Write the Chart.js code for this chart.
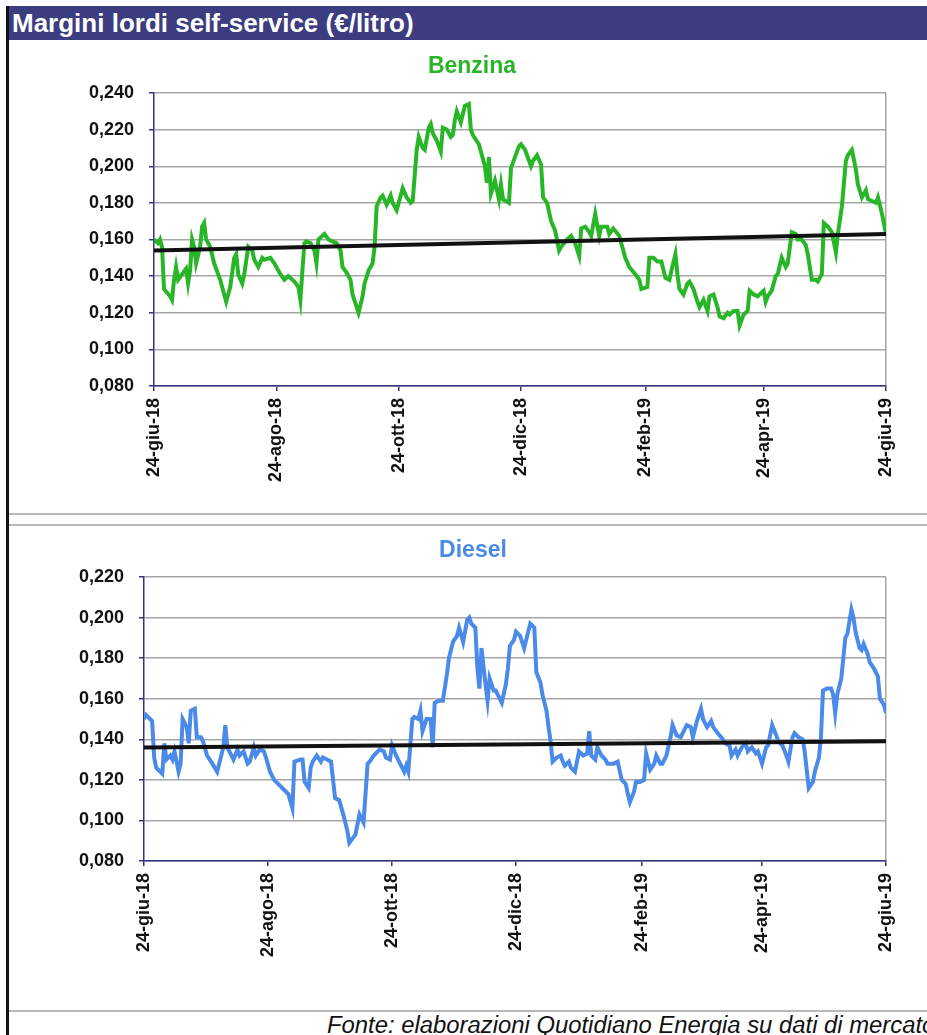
<!DOCTYPE html>
<html>
<head>
<meta charset="utf-8">
<script src="https://cdn.jsdelivr.net/npm/chart.js@4.4.1/dist/chart.umd.min.js"></script>
<style>
    body { margin: 0; background: #fff; }
    #page { position: relative; width: 927px; height: 1035px; overflow: hidden; background: #fff; font-family: "Liberation Sans", Arial, sans-serif; }
    #titlebar { position: absolute; left: 8px; top: 6px; width: 919px; height: 34px; background: #3c3c80; color: #fff; font-weight: bold; font-size: 26px; line-height: 35px; padding-left: 4px; box-sizing: border-box; white-space: nowrap; }
    #leftline { position: absolute; left: 6px; top: 6px; width: 3px; height: 1029px; background: #111; }
    .sep { position: absolute; left: 9px; width: 918px; height: 2px; background: #b4bab4; }
    canvas { position: absolute; left: 10px; }
    #fonte { position: absolute; left: 327px; top: 1013px; font-size: 23.85px; font-style: italic; color: #111; white-space: nowrap; line-height: 24px; }
</style>
</head>
<body>
<div id="page">
    <div id="titlebar">Margini lordi self-service (€/litro)</div>
    <div id="leftline"></div>
    <canvas id="benzina" width="917" height="468" style="top:42px"></canvas>
    <div class="sep" style="top:513px"></div>
    <div class="sep" style="top:524px"></div>
    <canvas id="diesel" width="917" height="473" style="top:527px"></canvas>
    <div class="sep" style="top:1010px"></div>
    <div id="fonte">Fonte: elaborazioni Quotidiano Energia su dati di mercato</div>
</div>
<script>
// giorni dal 24-giu-18
const tickDays = [0, 61, 122, 183, 245, 304, 365];
const tickLabels = ['24-giu-18', '24-ago-18', '24-ott-18', '24-dic-18', '24-feb-19', '24-apr-19', '24-giu-19'];

const benzinaDays = [
    0, 2, 3, 4, 5, 8, 9, 10, 11, 12,
    14, 16, 17, 18, 19, 20, 21, 23, 24, 25,
    26, 28, 30, 33, 36, 38, 40, 41, 42, 44,
    45, 47, 49, 50, 52, 54, 55, 58, 60, 63,
    65, 67, 70, 72, 73, 74, 75, 76, 78, 80,
    81, 82, 84, 85, 87, 89, 91, 93, 94, 96,
    98, 99, 102, 104, 105, 107, 109, 110, 111, 113,
    114, 116, 118, 119, 121, 123, 124, 126, 128, 129,
    131, 132, 134, 135, 137, 138, 139, 141, 143, 144,
    146, 148, 149, 150, 151, 153, 155, 157, 158, 159,
    162, 163, 165, 166, 167, 168, 170, 172, 173, 174,
    177, 178, 180, 182, 183, 185, 188, 189, 191, 193,
    194, 196, 198, 200, 202, 203, 206, 208, 210, 212,
    213, 215, 217, 218, 220, 222, 223, 226, 227, 229,
    232, 233, 235, 237, 240, 242, 243, 246, 247, 249,
    251, 253, 255, 257, 258, 260, 261, 262, 264, 266,
    267, 269, 271, 272, 274, 276, 277, 279, 281, 282,
    284, 286, 287, 289, 291, 292, 294, 296, 297, 299,
    301, 302, 304, 305, 306, 308, 310, 311, 313, 315,
    316, 318, 320, 321, 323, 325, 326, 328, 330, 331,
    333, 334, 336, 338, 340, 341, 343, 345, 346, 348,
    350, 351, 353, 355, 356, 358, 360, 361, 363, 365
];
const benzinaValues = [
    0.160, 0.158, 0.160, 0.156, 0.133, 0.129, 0.127, 0.138, 0.145, 0.138,
    0.141, 0.144, 0.136, 0.143, 0.160, 0.156, 0.147, 0.156, 0.167, 0.169,
    0.160, 0.156, 0.147, 0.138, 0.126, 0.134, 0.150, 0.152, 0.141, 0.136,
    0.141, 0.156, 0.154, 0.149, 0.145, 0.150, 0.149, 0.150, 0.147, 0.141,
    0.138, 0.140, 0.137, 0.134, 0.127, 0.143, 0.158, 0.159, 0.158, 0.154,
    0.147, 0.160, 0.162, 0.163, 0.160, 0.159, 0.158, 0.154, 0.145, 0.142,
    0.138, 0.130, 0.120, 0.129, 0.136, 0.143, 0.147, 0.156, 0.178, 0.183,
    0.184, 0.179, 0.184, 0.180, 0.176, 0.184, 0.188, 0.183, 0.180, 0.181,
    0.209, 0.216, 0.210, 0.209, 0.221, 0.223, 0.218, 0.214, 0.208, 0.221,
    0.220, 0.216, 0.217, 0.225, 0.230, 0.224, 0.233, 0.234, 0.220, 0.217,
    0.212, 0.208, 0.200, 0.191, 0.205, 0.185, 0.192, 0.182, 0.190, 0.182,
    0.180, 0.199, 0.205, 0.211, 0.212, 0.209, 0.200, 0.203, 0.206, 0.201,
    0.183, 0.180, 0.170, 0.165, 0.154, 0.156, 0.160, 0.162, 0.158, 0.151,
    0.166, 0.167, 0.164, 0.162, 0.174, 0.162, 0.167, 0.167, 0.163, 0.166,
    0.162, 0.158, 0.150, 0.145, 0.141, 0.138, 0.133, 0.134, 0.150, 0.150,
    0.148, 0.148, 0.139, 0.138, 0.143, 0.152, 0.141, 0.133, 0.130, 0.136,
    0.137, 0.133, 0.126, 0.123, 0.127, 0.121, 0.129, 0.130, 0.123, 0.118,
    0.117, 0.120, 0.119, 0.121, 0.121, 0.113, 0.119, 0.121, 0.132, 0.130,
    0.129, 0.130, 0.132, 0.126, 0.129, 0.132, 0.140, 0.141, 0.150, 0.145,
    0.147, 0.164, 0.163, 0.160, 0.160, 0.157, 0.152, 0.138, 0.138, 0.137,
    0.141, 0.169, 0.167, 0.164, 0.153, 0.163, 0.178, 0.203, 0.206, 0.209,
    0.198, 0.190, 0.183, 0.187, 0.182, 0.181, 0.180, 0.183, 0.174, 0.163
];

const dieselDays = [
    0, 1, 3, 4, 5, 6, 9, 10, 11, 13,
    14, 15, 17, 18, 19, 21, 22, 23, 25, 26,
    28, 29, 31, 33, 36, 37, 39, 40, 41, 42,
    44, 46, 47, 49, 51, 52, 54, 55, 57, 59,
    60, 62, 64, 66, 69, 71, 73, 74, 77, 78,
    79, 81, 82, 83, 85, 87, 88, 90, 92, 94,
    96, 98, 100, 101, 104, 106, 108, 110, 111, 113,
    114, 116, 118, 119, 121, 122, 124, 126, 128, 129,
    130, 132, 133, 135, 136, 137, 139, 141, 142, 143,
    145, 147, 149, 150, 152, 154, 155, 157, 159, 160,
    161, 163, 164, 165, 166, 168, 169, 170, 172, 173,
    175, 176, 178, 179, 180, 182, 183, 185, 187, 188,
    190, 192, 193, 195, 196, 198, 199, 200, 201, 203,
    205, 206, 207, 209, 210, 212, 213, 214, 216, 218,
    219, 220, 222, 223, 225, 227, 228, 231, 233, 235,
    237, 238, 239, 241, 242, 244, 246, 247, 249, 251,
    252, 254, 255, 257, 259, 260, 262, 264, 265, 267,
    269, 270, 272, 273, 274, 275, 277, 279, 280, 283,
    284, 286, 288, 289, 291, 292, 294, 296, 297, 299,
    301, 302, 304, 306, 307, 309, 311, 312, 314, 316,
    317, 319, 320, 322, 324, 325, 327, 329, 330, 332,
    333, 334, 336, 338, 339, 340, 341, 343, 344, 345,
    346, 348, 349, 350, 352, 353, 354, 356, 357, 359,
    361, 362, 364, 365
];
const dieselValues = [
    0.150, 0.152, 0.150, 0.149, 0.131, 0.126, 0.123, 0.138, 0.130, 0.132,
    0.130, 0.134, 0.124, 0.128, 0.150, 0.146, 0.138, 0.154, 0.155, 0.141,
    0.141, 0.139, 0.132, 0.129, 0.124, 0.128, 0.136, 0.147, 0.136, 0.134,
    0.130, 0.135, 0.132, 0.134, 0.128, 0.129, 0.136, 0.132, 0.135, 0.134,
    0.131, 0.124, 0.120, 0.118, 0.115, 0.113, 0.106, 0.129, 0.130, 0.130,
    0.119, 0.116, 0.126, 0.129, 0.132, 0.129, 0.131, 0.130, 0.129, 0.111,
    0.110, 0.103, 0.095, 0.089, 0.093, 0.103, 0.099, 0.128, 0.129, 0.132,
    0.133, 0.135, 0.134, 0.131, 0.130, 0.137, 0.132, 0.128, 0.124, 0.127,
    0.124, 0.150, 0.151, 0.150, 0.154, 0.144, 0.150, 0.150, 0.136, 0.158,
    0.159, 0.159, 0.172, 0.180, 0.188, 0.191, 0.195, 0.188, 0.199, 0.200,
    0.197, 0.195, 0.175, 0.165, 0.185, 0.167, 0.159, 0.170, 0.164, 0.164,
    0.160, 0.158, 0.167, 0.175, 0.186, 0.189, 0.193, 0.191, 0.185, 0.189,
    0.197, 0.195, 0.173, 0.168, 0.162, 0.154, 0.146, 0.139, 0.129, 0.131,
    0.132, 0.129, 0.127, 0.129, 0.126, 0.124, 0.129, 0.134, 0.132, 0.133,
    0.144, 0.132, 0.130, 0.136, 0.132, 0.130, 0.128, 0.128, 0.129, 0.120,
    0.118, 0.113, 0.109, 0.114, 0.119, 0.119, 0.120, 0.133, 0.125, 0.128,
    0.132, 0.128, 0.128, 0.132, 0.141, 0.147, 0.142, 0.141, 0.143, 0.147,
    0.146, 0.141, 0.149, 0.152, 0.155, 0.150, 0.146, 0.149, 0.146, 0.142,
    0.141, 0.138, 0.137, 0.132, 0.135, 0.132, 0.136, 0.138, 0.134, 0.136,
    0.133, 0.134, 0.128, 0.136, 0.137, 0.147, 0.142, 0.139, 0.137, 0.132,
    0.129, 0.141, 0.143, 0.141, 0.140, 0.134, 0.116, 0.119, 0.124, 0.131,
    0.141, 0.164, 0.165, 0.165, 0.162, 0.153, 0.162, 0.170, 0.180, 0.190,
    0.192, 0.204, 0.200, 0.193, 0.185, 0.184, 0.187, 0.182, 0.178, 0.175,
    0.171, 0.160, 0.157, 0.153
];

// linee di tendenza (inizio, fine)
const trendDays = [0, 365];
const benzinaTrend = [0.154, 0.163];
const dieselTrend = [0.136, 0.139];

Chart.defaults.font.family = '"Liberation Sans", Arial, sans-serif';

let toPoints = (days, values) => days.map((d, i) => ({ x: d, y: values[i] }));

let createChart = (id, cfg) => {
    let ctx = document.querySelector(id).getContext('2d');

    let chart = new Chart(ctx, {
        type: 'line',
        data: {
            datasets: [
                {
                    data: toPoints(trendDays, cfg.trend),
                    borderColor: '#111111',
                    borderWidth: 4,
                    pointRadius: 0
                },
                {
                    data: toPoints(cfg.days, cfg.values),
                    borderColor: cfg.color,
                    borderWidth: 4,
                    pointRadius: 0,
                    tension: 0
                }
            ]
        },
        options: {
            responsive: false,
            animation: false,
            events: [],
            layout: { padding: { left: cfg.padLeft, right: 41, top: 0, bottom: 0 } },
            plugins: {
                legend: { display: false },
                tooltip: { enabled: false },
                title: {
                    display: true,
                    text: cfg.title,
                    color: cfg.color,
                    font: { size: 23, weight: 'bold' },
                    padding: { top: cfg.titleTop, bottom: cfg.titleBottom }
                }
            },
            scales: {
                x: {
                    type: 'linear',
                    min: 0,
                    max: 365,
                    afterBuildTicks: (scale) => { scale.ticks = tickDays.map(v => ({ value: v })); },
                    afterFit: (scale) => { scale.height = cfg.xHeight; },
                    ticks: {
                        autoSkip: false,
                        maxRotation: 90,
                        minRotation: 90,
                        padding: 7,
                        color: '#111',
                        font: { size: 18, weight: 'bold' },
                        callback: (value) => tickLabels[tickDays.indexOf(value)]
                    },
                    grid: {
                        color: (c) => (c.tick && c.tick.value === 365) ? '#a6a6a6' : 'rgba(0,0,0,0)',
                        lineWidth: 1.5,
                        tickColor: '#34347e',
                        tickLength: 5
                    },
                    border: { color: '#34347e', width: 1.5 }
                },
                y: {
                    min: cfg.yMin,
                    max: cfg.yMax,
                    afterFit: (scale) => { scale.width = cfg.yWidth; },
                    ticks: {
                        stepSize: 0.02,
                        padding: 15,
                        color: '#111',
                        font: { size: 18, weight: 'bold' },
                        callback: (value) => Number(value).toFixed(3).replace('.', ',')
                    },
                    grid: {
                        color: '#a6a6a6',
                        lineWidth: 1.5,
                        tickColor: '#34347e',
                        tickLength: 5
                    },
                    border: { color: '#34347e', width: 1.5 }
                }
            }
        }
    });

    return chart;
}

createChart('#benzina', {
    title: 'Benzina', color: '#28b628',
    days: benzinaDays, values: benzinaValues, trend: benzinaTrend,
    yMin: 0.08, yMax: 0.24,
    padLeft: 48, yWidth: 96, xHeight: 124,
    titleTop: 11, titleBottom: 12.4
});

createChart('#diesel', {
    title: 'Diesel', color: '#4a8ae8',
    days: dieselDays, values: dieselValues, trend: dieselTrend,
    yMin: 0.08, yMax: 0.22,
    padLeft: 50, yWidth: 84, xHeight: 139,
    titleTop: 10, titleBottom: 12.4
});
</script>
</body>
</html>
